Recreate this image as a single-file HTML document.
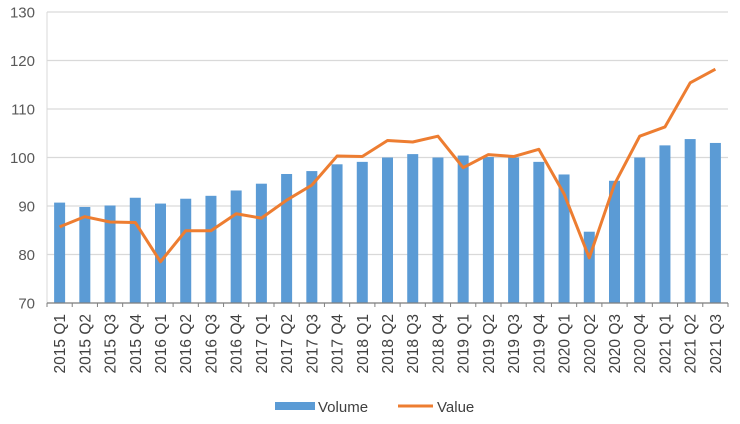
<!DOCTYPE html>
<html><head><meta charset="utf-8"><style>
html,body{margin:0;padding:0;background:#fff;width:740px;height:424px;overflow:hidden}
svg{font-family:"Liberation Sans",sans-serif;display:block}
</style></head><body>
<svg id="chart" width="740" height="424"></svg>
<script>
const categories=["2015 Q1","2015 Q2","2015 Q3","2015 Q4","2016 Q1","2016 Q2","2016 Q3","2016 Q4","2017 Q1","2017 Q2","2017 Q3","2017 Q4","2018 Q1","2018 Q2","2018 Q3","2018 Q4","2019 Q1","2019 Q2","2019 Q3","2019 Q4","2020 Q1","2020 Q2","2020 Q3","2020 Q4","2021 Q1","2021 Q2","2021 Q3"];
const volume=[90.7,89.8,90.1,91.7,90.5,91.5,92.1,93.2,94.6,96.6,97.2,98.6,99.1,100,100.7,100,100.4,100.1,100,99.1,96.5,84.7,95.2,100,102.5,103.8,103.0];
const value=[85.7,87.8,86.7,86.6,78.5,84.9,84.9,88.4,87.5,91.2,94.3,100.3,100.2,103.5,103.2,104.4,97.9,100.6,100.2,101.7,92.5,79.3,94.5,104.4,106.3,115.4,118.2];
const yTicks=[70,80,90,100,110,120,130];
const NS="http://www.w3.org/2000/svg";
const svg=document.getElementById('chart');
const L=47,R=728,T=12,B=303,yMin=70,yMax=130;
const bw=(R-L)/categories.length;
const x=i=>L+bw*(i+0.5);
const y=v=>B-(v-yMin)/(yMax-yMin)*(B-T);
function mk(t,a){const e=document.createElementNS(NS,t);for(const k in a)e.setAttribute(k,a[k]);svg.appendChild(e);return e;}
yTicks.forEach(t=>{
  const g=mk('line',{x1:L,x2:R,y1:y(t),y2:y(t),stroke:'#d9d9d9','stroke-width':1.3});
  
  
  const lb=mk('text',{x:35,y:y(t)+5.5,'text-anchor':'end','font-size':15,fill:'#595959'});
  lb.textContent=t;
  
  
});
mk('line',{x1:L,x2:L,y1:T,y2:B,stroke:'#d9d9d9','stroke-width':1});
volume.forEach((v,i)=>{
  const r=mk('rect',{x:x(i)-5.5,y:y(v),width:11,height:B-y(v),fill:'#5b9bd5'});
  
  
});
const ax=mk('line',{x1:L,x2:R,y1:B,y2:B,stroke:'#808080','stroke-width':1.2});


categories.forEach((c,i)=>{
  mk('line',{x1:L+bw*i,x2:L+bw*i,y1:B,y2:B+4,stroke:'#808080'});
  const t=mk('text',{transform:`translate(${x(i)+5.5},314) rotate(-90)`,'text-anchor':'end','font-size':15.5,fill:'#404040'});
  t.textContent=c;
  
  
});
mk('line',{x1:R,x2:R,y1:B,y2:B+4,stroke:'#808080'});
const p=mk('polyline',{points:value.map((v,i)=>x(i)+','+y(v)).join(' '),fill:'none',stroke:'#ed7d31','stroke-width':3,'stroke-linejoin':'round'});


const l1=mk('rect',{x:275,y:402,width:40,height:8,fill:'#5b9bd5'});


const t1=mk('text',{x:318,y:412,'font-size':15,fill:'#404040'});t1.textContent='Volume';


const l2=mk('line',{x1:398,x2:433,y1:406,y2:406,stroke:'#ed7d31','stroke-width':3});


const t2=mk('text',{x:437,y:412,'font-size':15,fill:'#404040'});t2.textContent='Value';


</script>
</body></html>
